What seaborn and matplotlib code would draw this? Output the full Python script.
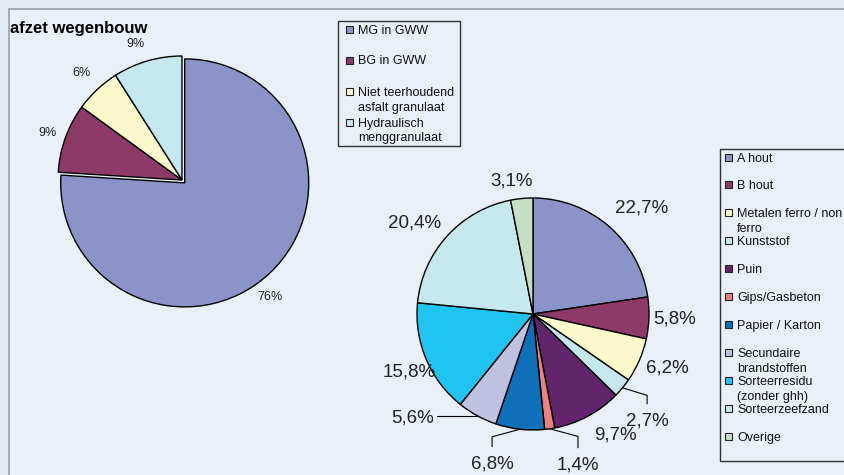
import matplotlib
matplotlib.use("Agg")
import matplotlib.pyplot as plt
import seaborn as sns
import numpy as np
from matplotlib.patches import Rectangle

# ---------------------------------------------------------------- data
wegen_labels = ["MG in GWW", "BG in GWW", "Niet teerhoudend\nasfalt granulaat",
                "Hydraulisch\nmenggranulaat"]
wegen_values = [76, 9, 6, 9]
wegen_colors = ["#8a94c8", "#8e3a68", "#fbf8cc", "#c5e7ee"]

hout_labels = ["A hout", "B hout", "Metalen ferro / non\nferro", "Kunststof", "Puin",
               "Gips/Gasbeton", "Papier / Karton", "Secundaire\nbrandstoffen",
               "Sorteerresidu\n(zonder ghh)", "Sorteerzeefzand", "Overige"]
hout_values = [22.7, 5.8, 6.2, 2.7, 9.7, 1.4, 6.8, 5.6, 15.8, 20.4, 3.1]
hout_colors = ["#8a94c8", "#8e3a68", "#fbf8cc", "#c5e7ee", "#62246a", "#f08080",
               "#0e70b8", "#c0c0e0", "#20c4f0", "#c5e7ee", "#c4e0c4"]

title = "afzet wegenbouw"

# ---------------------------------------------------------------- style
sns.set_theme(style="white")
plt.rcParams['font.family'] = ['Liberation Sans', 'DejaVu Sans']

W, H = 844, 475
BG_OUT = "#e4eaf3"
BG_IN = "#eaf0f8"

fig = plt.figure(figsize=(W / 100, H / 100), dpi=100)
fig.patch.set_facecolor(BG_OUT)


def pie_axes(cx, cy, half):
    # square axes centred on a pixel position (y measured from top)
    return fig.add_axes([(cx - half) / W, 1 - (cy + half) / H, 2 * half / W, 2 * half / H])


# background / frame layer
bg = fig.add_axes([0, 0, 1, 1])
bg.set_xlim(0, W)
bg.set_ylim(H, 0)
bg.axis("off")
bg.add_patch(Rectangle((8.5, 8.5), W, H, facecolor=BG_IN, edgecolor="#9a9ea4", lw=1.2))

# ---------------------------------------------------------------- left pie
r1 = 124
ax1 = pie_axes(182, 180, 170)
pal1 = sns.color_palette(wegen_colors)
wedges1, _ = ax1.pie(wegen_values, colors=pal1, startangle=90, counterclock=False,
                     explode=[0.032, 0, 0, 0], radius=1,
                     wedgeprops=dict(edgecolor="black", linewidth=1.0))
L1 = 170 / r1
ax1.set_xlim(-L1, L1)
ax1.set_ylim(-L1, L1)
ax1.axis("off")

dist1 = [1.18, 1.15, 1.18, 1.16]
shift1 = [-6, 0.5, 0, 2.5]
for w, v, d, s in zip(wedges1, wegen_values, dist1, shift1):
    a = np.deg2rad((w.theta1 + w.theta2) / 2 + s)
    ax1.text(d * np.cos(a), d * np.sin(a), f"{v}%", ha="center", va="center",
             fontsize=9, color="#222222")

# ---------------------------------------------------------------- right pie
r2 = 116
ax2 = pie_axes(533, 314, 168)
pal2 = sns.color_palette(hout_colors)
wedges2, _ = ax2.pie(hout_values, colors=pal2, startangle=90, counterclock=False,
                     radius=1, wedgeprops=dict(edgecolor="black", linewidth=1.0))
L2 = 168 / r2
ax2.set_xlim(-L2, L2)
ax2.set_ylim(-L2, L2)
ax2.axis("off")

dist2 = [1.31, 1.22, 1.25, 1.35, 1.26, 1.36, 1.34, 1.37, 1.18, 1.29, 1.16]
shift2 = [-4.9, 0, 1.5, -3.7, 6.2, 8.3, -8.8, -20.4, 2.2, 4.8, 3.6]
leader = {3: "elbow", 5: "elbow", 6: "elbow", 7: "flat"}
for i, (w, v) in enumerate(zip(wedges2, hout_values)):
    mid = np.deg2rad((w.theta1 + w.theta2) / 2)
    a = mid + np.deg2rad(shift2[i])
    tx, ty = dist2[i] * np.cos(a), dist2[i] * np.sin(a)
    ax2.text(tx, ty, f"{v:.1f}%".replace(".", ","), ha="center", va="center",
             fontsize=13.5, color="#222222", clip_on=False)
    ex, ey = np.cos(mid), np.sin(mid)
    if leader.get(i) == "elbow":
        ax2.plot([ex, tx, tx], [ey, ey - 0.065, ty + 0.15], color="black", lw=0.8,
                 clip_on=False)
    elif leader.get(i) == "flat":
        ax2.plot([ex, tx + 0.21], [ey, ey], color="black", lw=0.8, clip_on=False)

# ---------------------------------------------------------------- legends / title
top = fig.add_axes([0, 0, 1, 1])
top.set_xlim(0, W)
top.set_ylim(H, 0)
top.axis("off")
top.patch.set_alpha(0)

top.text(10, 28, title, fontsize=12, fontweight="bold", va="center", ha="left",
         color="black")


def draw_legend(x0, y0, w, h, labels, colors, first, step, sq_x):
    top.add_patch(Rectangle((x0, y0), w, h, facecolor="none", edgecolor="#333333",
                            lw=1.0, clip_on=False))
    for k, (lab, col) in enumerate(zip(labels, colors)):
        yc = first + k * step
        top.add_patch(Rectangle((sq_x, yc - 3.5), 7, 7, facecolor=col,
                                edgecolor="#222222", lw=0.8))
        for j, line in enumerate(lab.split("\n")):
            top.text(sq_x + 12, yc + 4.5 + 15 * j, line, fontsize=9, ha="left",
                     va="baseline", color="#111111")


draw_legend(338, 20.5, 122, 125, wegen_labels, pal1, 29, 31, 346)
draw_legend(719.5, 148.5, 140, 312, hout_labels, pal2, 157, 27.9, 725)

fig.savefig("out.png", dpi=100, facecolor=fig.get_facecolor())
